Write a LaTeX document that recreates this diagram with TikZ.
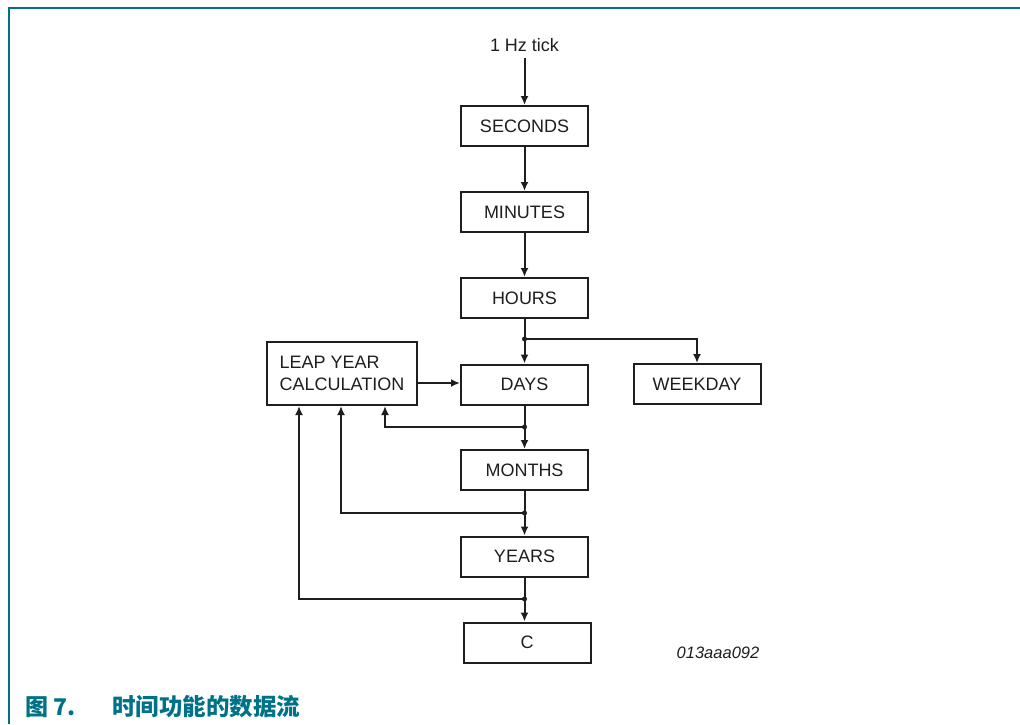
\documentclass[tikz,border=0pt]{standalone}
\usepackage{fontspec}
\setmainfont{Liberation Sans}
\newfontfamily\cjk{Noto Sans CJK SC}
\usetikzlibrary{arrows.meta}
\definecolor{nxpteal}{RGB}{0,114,136}
\definecolor{ink}{RGB}{30,30,30}
\tikzset{
  box/.style={draw=ink, line width=2pt, rectangle, inner sep=0pt,
    minimum width=127pt, minimum height=40pt, text=ink,
    font=\fontsize{18}{22}\selectfont},
  arr/.style={draw=ink, line width=2pt, -{Latex[length=9pt,width=8pt]}},
  jdot/.style={fill=ink, circle, inner sep=0pt, minimum size=5pt},
}
\begin{document}
\begin{tikzpicture}[x=1pt,y=-1pt]
\useasboundingbox (0,0) rectangle (1020,724);
% frame
\draw[nxpteal, line width=2.5pt] (9,724) -- (9,8) -- (1020,8);
% nodes
\node[text=ink, font=\fontsize{18}{22}\selectfont] (tick) at (524.5,45) {1 Hz tick};
\node[box] (sec) at (524.5,126) {SECONDS};
\node[box] (min) at (524.5,212) {MINUTES};
\node[box] (hrs) at (524.5,298) {HOURS};
\node[box] (days) at (524.5,384.5) {DAYS};
\node[box] (mon) at (524.5,470) {MONTHS};
\node[box] (yrs) at (524.5,556.5) {YEARS};
\node[box] (c) at (527,642.5) {C};
\node[box, minimum width=150pt, minimum height=63pt, align=left] (leap) at (342,373.5) {LEAP YEAR\\CALCULATION};
\node[box] (wkd) at (697,384) {WEEKDAY};
\node[text=ink, font=\fontsize{16.5}{20}\selectfont\itshape] (id) at (718,653) {013aaa092};
% caption
\node[anchor=west, text=nxpteal, font=\cjk\bfseries\fontsize{23}{26}\selectfont, inner sep=0pt] (cap1) at (25,707) {图 7.};
\node[anchor=west, text=nxpteal, font=\cjk\bfseries\fontsize{23.5}{26}\selectfont, inner sep=0pt] (cap2) at (112,707) {时间功能的数据流};
% junction coordinates
\coordinate (j1) at (524.5,339);
\coordinate (j2) at (524.5,427);
\coordinate (j3) at (524.5,513);
\coordinate (j4) at (524.5,599);
% connectors
\draw[arr] ([yshift=-3pt]tick.south) -- (sec.north);
\draw[arr] (sec.south) -- (min.north);
\draw[arr] (min.south) -- (hrs.north);
\draw[arr] (hrs.south) -- (days.north);
\draw[arr] (j1) -| (wkd.north);
\draw[arr] (leap.east |- 0,383) -- (days.west |- 0,383);
\draw[arr] (days.south) -- (mon.north);
\draw[arr] (j2) -| ([xshift=43pt]leap.south);
\draw[arr] (mon.south) -- (yrs.north);
\draw[arr] (j3) -| ([xshift=-1pt]leap.south);
\draw[arr] (yrs.south) -- (yrs.south |- c.north);
\draw[arr] (j4) -| ([xshift=-43pt]leap.south);
% junction dots
\foreach \j in {j1,j2,j3,j4} \node[jdot] at (\j) {};
\end{tikzpicture}
\end{document}
